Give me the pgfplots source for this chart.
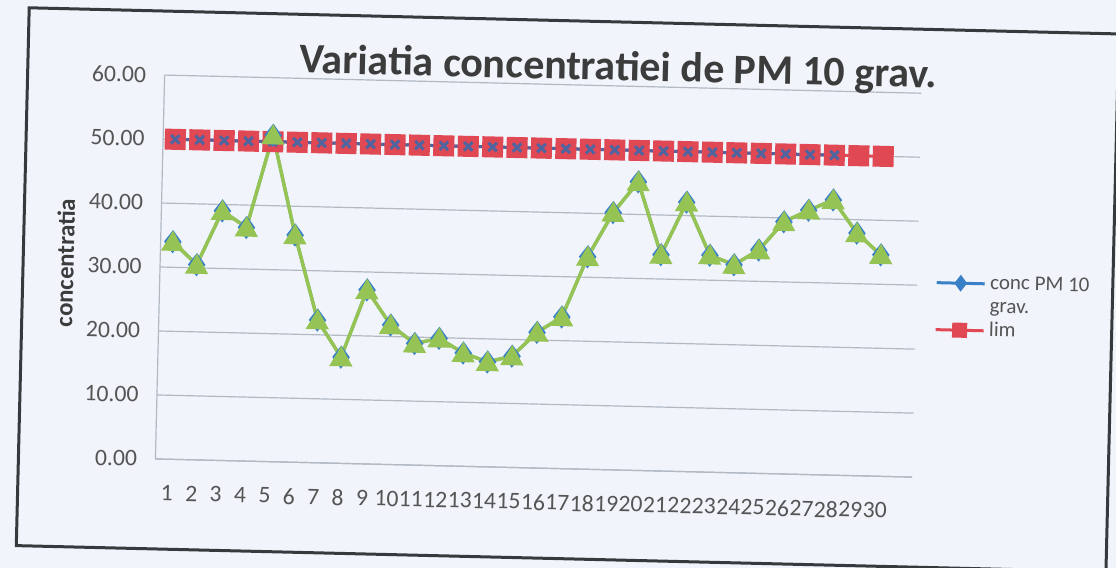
\documentclass[border=0pt]{standalone}
\usepackage{fontspec}
\setmainfont{Carlito}
\usepackage{pgfplots}
\pgfplotsset{compat=1.18}
\definecolor{bgcol}{RGB}{241,245,251}
\definecolor{framecol}{RGB}{55,58,60}
\definecolor{gridcol}{RGB}{178,185,195}
\definecolor{tickcol}{RGB}{85,85,85}
\definecolor{titlecol}{RGB}{60,60,60}
\definecolor{limred}{RGB}{224,72,84}
\definecolor{concblue}{RGB}{58,128,200}
\definecolor{darkblue}{RGB}{80,100,160}
\definecolor{concgreen}{RGB}{150,196,84}
\begin{document}
\begin{tikzpicture}
\useasboundingbox (0,0) rectangle (558pt,284pt);
\fill[bgcol] (0,0) rectangle (558pt,284pt);
\begin{scope}[rotate around={-1.375:(80pt,150pt)}, transform shape]
\draw[framecol, line width=1.5pt] (11.5pt,9.5pt) rectangle (556.5pt,278.5pt);
\begin{axis}[
  at={(80pt,54.5pt)}, anchor=south west,
  scale only axis, width=378.5pt, height=192pt,
  xmin=0.5, xmax=31.5, ymin=0, ymax=60,
  xtick={1,...,30}, ytick={0,10,...,60},
  major tick length=0pt,
  axis lines*=left,
  axis line style={gridcol, line width=0.6pt},
  ymajorgrids, grid style={gridcol, line width=0.6pt},
  /pgf/number format/assume math mode=true,
  tick label style={font=\fontsize{11.85}{14}\selectfont, text=tickcol},
  yticklabel style={/pgf/number format/fixed, /pgf/number format/fixed zerofill, /pgf/number format/precision=2, xshift=-5.7pt},
  xticklabel style={yshift=-9.6pt},
  every axis title shift=0pt,
  title={Variatia concentratiei de PM 10 grav.},
  title style={at={(axis description cs:0.599,1.0143)}, anchor=base, font=\fontsize{21}{25}\selectfont\bfseries, text=titlecol},
  ylabel={concentratia},
  ylabel style={at={(axis description cs:-0.1255,0.505)}, anchor=center, font=\fontsize{12.4}{14}\selectfont\bfseries, text=titlecol},
  legend style={at={(axis description cs:1.0238,0.4466)}, anchor=west, draw=none, fill=none, inner sep=0pt, row sep=0pt, column sep=1pt, font=\fontsize{10.5}{12}\selectfont, text=tickcol, nodes={inner sep=1pt, text height=7.5pt, text depth=2.25pt}},
  legend cell align=left,
  legend image code/.code={\draw[mark repeat=2, mark phase=2, #1] plot coordinates {(0pt,0pt) (12pt,0pt) (24pt,0pt)};},
]
\addplot[limred, line width=1.5pt, mark=square*, mark size=4.5pt, forget plot] coordinates {
(1,50)(2,50)(3,50)(4,50)(5,50)(6,50)(7,50)(8,50)(9,50)(10,50)
(11,50)(12,50)(13,50)(14,50)(15,50)(16,50)(17,50)(18,50)(19,50)(20,50)
(21,50)(22,50)(23,50)(24,50)(25,50)(26,50)(27,50)(28,50)(29,50)(30,50)};
\addplot[darkblue, line width=1.5pt, mark=x, mark size=3pt, forget plot] coordinates {
(1,50)(2,50)(3,50)(4,50)(5,50)(6,50)(7,50)(8,50)(9,50)(10,50)
(11,50)(12,50)(13,50)(14,50)(15,50)(16,50)(17,50)(18,50)(19,50)(20,50)
(21,50)(22,50)(23,50)(24,50)(25,50)(26,50)(27,50)(28,50)};
\addplot[concblue, line width=1.5pt, mark=diamond*, mark size=4.6pt, forget plot] coordinates {
(1,34.0)(2,30.5)(3,39.0)(4,36.5)(5,51.0)(6,35.5)(7,22.3)(8,16.6)(9,27.2)(10,21.8)
(11,19.0)(12,19.9)(13,17.7)(14,16.4)(15,17.4)(16,21.2)(17,23.7)(18,33.2)(19,40.2)(20,45.1)
(21,33.8)(22,42.1)(23,33.9)(24,32.5)(25,34.9)(26,39.4)(27,41.3)(28,43.0)(29,37.9)(30,34.6)};
\addplot[concgreen, line width=1.75pt, mark=triangle*, mark size=5pt, mark options={yshift=-1.2pt}, forget plot] coordinates {
(1,34.0)(2,30.5)(3,39.0)(4,36.5)(5,51.0)(6,35.5)(7,22.3)(8,16.6)(9,27.2)(10,21.8)
(11,19.0)(12,19.9)(13,17.7)(14,16.4)(15,17.4)(16,21.2)(17,23.7)(18,33.2)(19,40.2)(20,45.1)
(21,33.8)(22,42.1)(23,33.9)(24,32.5)(25,34.9)(26,39.4)(27,41.3)(28,43.0)(29,37.9)(30,34.6)};
\addlegendimage{concblue, line width=1.5pt, mark=diamond*, mark size=3pt}
\addlegendentry{conc PM 10}
\addlegendimage{empty legend}
\addlegendentry{grav.}
\addlegendimage{limred, line width=1.5pt, mark=square*, mark size=3pt}
\addlegendentry{lim}
\end{axis}
\end{scope}
\end{tikzpicture}
\end{document}
